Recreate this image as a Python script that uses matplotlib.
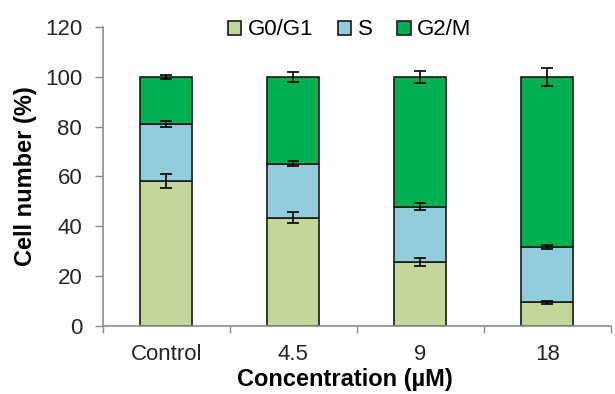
import matplotlib
matplotlib.use("Agg")
import matplotlib.pyplot as plt
import numpy as np

plt.rcParams["font.family"] = ["Liberation Sans", "DejaVu Sans"]

categories = ["Control", "4.5", "9", "18"]
g0g1 = [58.2, 43.5, 25.7, 9.5]
s_phase = [22.9, 21.6, 22.2, 22.2]
g2m = [18.9, 34.9, 52.1, 68.3]
g0g1_err = [3.0, 2.1, 1.7, 0.7]
s_err = [1.2, 1.0, 1.3, 1.0]
g2m_err = [0.9, 2.0, 2.5, 3.5]

series = [
    ("G0/G1", g0g1, g0g1_err, "#C4D79B"),
    ("S", s_phase, s_err, "#92CDDC"),
    ("G2/M", g2m, g2m_err, "#00B050"),
]

fig = plt.figure(figsize=(6.15, 3.94), dpi=100)
ax = fig.add_axes([0.1675, 0.1726, 0.8255, 0.7589])

x = np.arange(len(categories))
bottom = np.zeros(len(categories))
for name, vals, errs, color in series:
    vals = np.array(vals)
    ax.bar(x, vals, width=0.41, bottom=bottom, color=color,
           edgecolor="#1a1a1a", linewidth=1.2, label=name, zorder=2)
    ax.errorbar(x, bottom + vals, yerr=errs, fmt="none", ecolor="black",
                elinewidth=1.2, capsize=4, capthick=1.2, zorder=3)
    bottom = bottom + vals

ax.set_xlim(-0.5, len(categories) - 0.5)
ax.set_ylim(0, 120)
ax.set_yticks(np.arange(0, 121, 20))
ax.set_xticks(x)
ax.set_xticklabels(categories)
ax.set_xticks(np.arange(-0.5, len(categories), 1.0), minor=True)
ax.tick_params(axis="x", which="major", length=0, labelsize=16, pad=13)
ax.tick_params(axis="x", which="minor", length=5, color="#8c8c8c", width=1)
ax.tick_params(axis="y", length=6, color="#8c8c8c", width=1, labelsize=16, pad=9)
for lbl in ax.get_xticklabels() + ax.get_yticklabels():
    lbl.set_color("#262626")

for side in ("top", "right"):
    ax.spines[side].set_visible(False)
for side in ("left", "bottom"):
    ax.spines[side].set_color("#8c8c8c")
    ax.spines[side].set_linewidth(1.2)

ax.set_ylabel("Cell number (%)", fontsize=17, fontweight="bold", labelpad=6)
ax.set_xlabel("Concentration (\u00b5M)", fontsize=17, fontweight="bold")
ax.xaxis.set_label_coords(0.477, -0.14)

ax.legend(loc="center", bbox_to_anchor=(0.486, 0.99), ncol=3, frameon=False,
          fontsize=16, handlelength=0.6, handleheight=0.6, handletextpad=0.3,
          columnspacing=1.1, borderaxespad=0)

fig.savefig("out.png", dpi=100)
